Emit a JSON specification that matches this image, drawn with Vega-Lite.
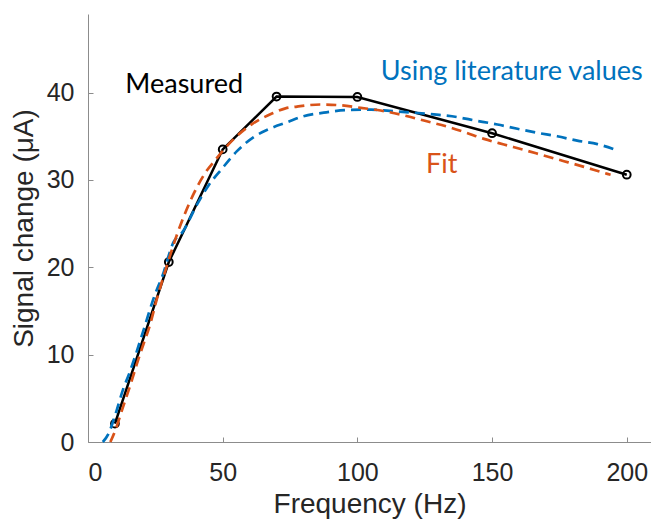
{
  "$schema": "https://vega.github.io/schema/vega-lite/v6.json",
  "width": 563,
  "height": 428,
  "autosize": {"type": "none"},
  "padding": {"left": 88, "top": 14, "right": 0, "bottom": 79},
  "background": "white",
  "config": {
    "view": {"stroke": null},
    "axis": {
      "grid": false,
      "domainColor": "#8c8c8c",
      "domainWidth": 1,
      "tickColor": "#8c8c8c",
      "tickSize": -5,
      "labelFont": "Liberation Sans",
      "labelFontSize": 25,
      "labelColor": "#262626",
      "titleFont": "Liberation Sans",
      "titleFontSize": 28,
      "titleFontWeight": "normal",
      "titleColor": "#262626"
    }
  },
  "datasets": {
    "measured": [
      {"f": 10, "s": 2.1},
      {"f": 30, "s": 20.6},
      {"f": 50, "s": 33.5},
      {"f": 70, "s": 39.55},
      {"f": 100, "s": 39.5},
      {"f": 150, "s": 35.35},
      {"f": 200, "s": 30.6}
    ],
    "lit": [
      {"f": 5.5, "s": 0},
      {"f": 7.7, "s": 1.0},
      {"f": 10, "s": 3.0},
      {"f": 13, "s": 6.0},
      {"f": 15.5, "s": 8.0},
      {"f": 17.6, "s": 9.9},
      {"f": 20, "s": 12.2},
      {"f": 25, "s": 17.0},
      {"f": 27.5, "s": 18.9},
      {"f": 31.8, "s": 22.9},
      {"f": 35, "s": 24.0},
      {"f": 40.5, "s": 27.2},
      {"f": 44.8, "s": 29.4},
      {"f": 49.5, "s": 31.2},
      {"f": 55.3, "s": 33.3},
      {"f": 61.5, "s": 34.9},
      {"f": 67.7, "s": 35.9},
      {"f": 73.9, "s": 36.6},
      {"f": 80, "s": 37.3},
      {"f": 87.5, "s": 37.7},
      {"f": 96, "s": 38.0},
      {"f": 105, "s": 38.05},
      {"f": 112, "s": 37.9},
      {"f": 121, "s": 37.7},
      {"f": 128.4, "s": 37.5},
      {"f": 137, "s": 37.2},
      {"f": 142, "s": 36.9},
      {"f": 152, "s": 36.35},
      {"f": 159.4, "s": 35.86},
      {"f": 166.8, "s": 35.4},
      {"f": 174.2, "s": 35.0},
      {"f": 181.6, "s": 34.5},
      {"f": 189.1, "s": 34.1},
      {"f": 195.9, "s": 33.45}
    ],
    "fit": [
      {"f": 8.3, "s": 0},
      {"f": 10.1, "s": 1.3},
      {"f": 13.2, "s": 4.2},
      {"f": 15.7, "s": 6.5},
      {"f": 18.2, "s": 9.0},
      {"f": 20.7, "s": 11.3},
      {"f": 22.9, "s": 13.3},
      {"f": 25.5, "s": 16.3},
      {"f": 28.7, "s": 19.6},
      {"f": 33.1, "s": 23.8},
      {"f": 39.2, "s": 28.4},
      {"f": 43.5, "s": 30.8},
      {"f": 47.3, "s": 32.3},
      {"f": 53.5, "s": 34.5},
      {"f": 60.9, "s": 36.4},
      {"f": 68.3, "s": 37.6},
      {"f": 73.3, "s": 38.2},
      {"f": 77.6, "s": 38.4},
      {"f": 86.3, "s": 38.64},
      {"f": 93.7, "s": 38.55},
      {"f": 101.2, "s": 38.26},
      {"f": 108.6, "s": 37.95},
      {"f": 117.2, "s": 37.4},
      {"f": 124.7, "s": 36.8},
      {"f": 133.4, "s": 36.1},
      {"f": 140, "s": 35.45},
      {"f": 147, "s": 34.7},
      {"f": 154.4, "s": 34.06},
      {"f": 161.8, "s": 33.45},
      {"f": 169.2, "s": 32.8},
      {"f": 176.7, "s": 32.15},
      {"f": 184.1, "s": 31.5},
      {"f": 192.8, "s": 30.7},
      {"f": 194, "s": 30.6}
    ]
  },
  "encoding": {
    "x": {
      "field": "f",
      "type": "quantitative",
      "scale": {"domain": [0, 209], "nice": false, "zero": false},
      "axis": {
        "values": [0, 50, 100, 150, 200],
        "title": "Frequency (Hz)",
        "labelPadding": 23,
        "titleY": 70,
        "titleBaseline": "alphabetic"
      }
    },
    "y": {
      "field": "s",
      "type": "quantitative",
      "scale": {"domain": [0, 49], "nice": false, "zero": false},
      "axis": {
        "values": [0, 10, 20, 30, 40],
        "title": "Signal change (μA)",
        "labelPadding": 19,
        "titleX": -56,
        "titleY": 214,
        "titleBaseline": "alphabetic"
      }
    }
  },
  "layer": [
    {
      "data": {"name": "measured"},
      "mark": {"type": "line", "color": "black", "strokeWidth": 2.5}
    },
    {
      "data": {"name": "measured"},
      "mark": {"type": "point", "shape": "circle", "filled": false, "stroke": "black", "strokeWidth": 2, "size": 60, "opacity": 1}
    },
    {
      "data": {"name": "lit"},
      "mark": {"type": "line", "color": "#0072BD", "strokeWidth": 2.7, "strokeDash": [10, 6], "interpolate": "monotone"}
    },
    {
      "data": {"name": "fit"},
      "mark": {"type": "line", "color": "#D95319", "strokeWidth": 2.7, "strokeDash": [10, 6], "interpolate": "monotone"}
    },
    {
      "data": {"values": [{"f": 35.7, "s": 40.0, "label": "Measured"}]},
      "mark": {"type": "text", "font": "Lato", "fontSize": 27, "align": "center", "baseline": "alphabetic", "color": "black"},
      "encoding": {"text": {"field": "label"}}
    },
    {
      "data": {"values": [{"f": 157.3, "s": 41.5, "label": "Using literature values"}]},
      "mark": {"type": "text", "font": "Lato", "fontSize": 27, "align": "center", "baseline": "alphabetic", "color": "#0072BD"},
      "encoding": {"text": {"field": "label"}}
    },
    {
      "data": {"values": [{"f": 131.3, "s": 30.8, "label": "Fit"}]},
      "mark": {"type": "text", "font": "Lato", "fontSize": 27, "align": "center", "baseline": "alphabetic", "color": "#D95319"},
      "encoding": {"text": {"field": "label"}}
    }
  ]
}
